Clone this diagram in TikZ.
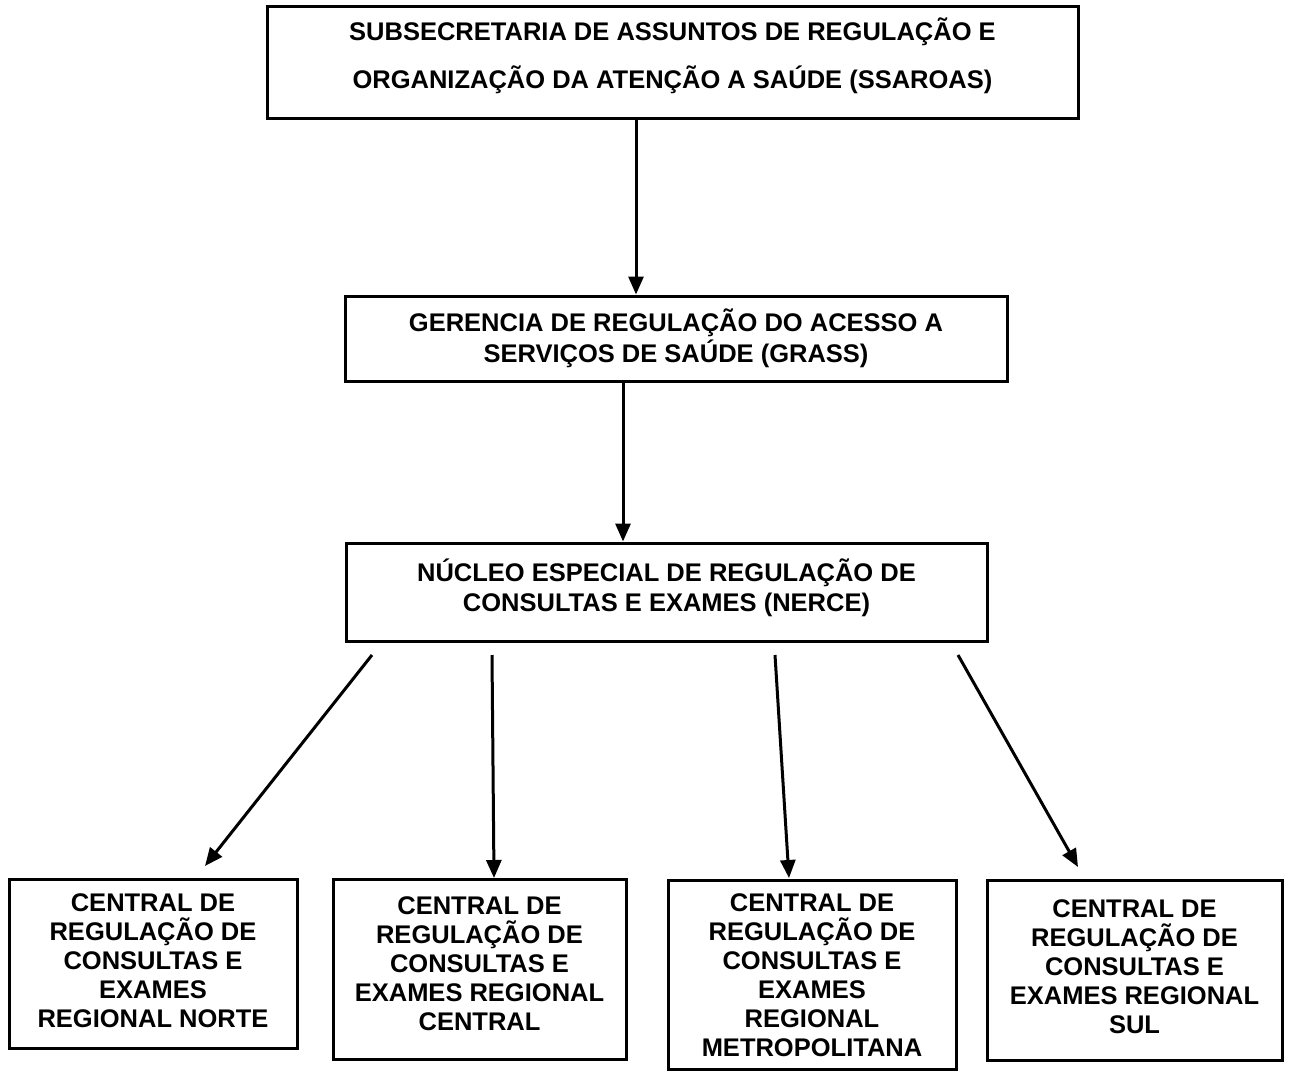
\documentclass[tikz,border=0pt]{standalone}
\usepackage{fontspec}
\setmainfont{Liberation Sans}
\usetikzlibrary{arrows.meta}
\begin{document}
\begin{tikzpicture}[x=1pt,y=-1pt,
  box/.style={draw,line width=3pt,rectangle,inner sep=0pt,align=center,
    font=\bfseries\fontsize{25.5}{29}\selectfont},
  arr/.style={line width=3pt,-{Triangle[length=18pt,width=15pt]}}]
\useasboundingbox (0,0) rectangle (1292,1070);
\node[box,minimum width=811pt,minimum height=112pt,text depth=19pt,
  font=\bfseries\fontsize{25.5}{48}\selectfont] (top) at (672.5,63)
  {SUBSECRETARIA DE ASSUNTOS DE REGULAÇÃO E\\ORGANIZAÇÃO DA ATENÇÃO A SAÚDE (SSAROAS)};
\node[box,minimum width=662pt,minimum height=85pt,
  font=\bfseries\fontsize{25.5}{31}\selectfont] (grass) at (676,338.5)
  {GERENCIA DE REGULAÇÃO DO ACESSO A\\SERVIÇOS DE SAÚDE (GRASS)};
\node[box,minimum width=641pt,minimum height=98pt,text depth=13pt,
  font=\bfseries\fontsize{25.5}{30}\selectfont] (nerce) at (666.5,592)
  {NÚCLEO ESPECIAL DE REGULAÇÃO DE\\CONSULTAS E EXAMES (NERCE)};
\node[box,minimum width=288pt,minimum height=169pt,text depth=6pt] (b1) at (153,963.5)
  {CENTRAL DE\\REGULAÇÃO DE\\CONSULTAS E\\EXAMES\\REGIONAL NORTE};
\node[box,minimum width=293pt,minimum height=180pt,text depth=10pt] (b2) at (479.5,969)
  {CENTRAL DE\\REGULAÇÃO DE\\CONSULTAS E\\EXAMES REGIONAL\\CENTRAL};
\node[box,minimum width=288pt,minimum height=189pt] (b3) at (812,975)
  {CENTRAL DE\\REGULAÇÃO DE\\CONSULTAS E\\EXAMES\\REGIONAL\\METROPOLITANA};
\node[box,minimum width=295pt,minimum height=180pt,text depth=6pt] (b4) at (1134.5,970)
  {CENTRAL DE\\REGULAÇÃO DE\\CONSULTAS E\\EXAMES REGIONAL\\SUL};
% vertical connectors
\coordinate (x1) at (636,0);
\coordinate (x2) at (623,0);
\draw[arr] (top.south -| x1) -- (grass.north -| x1);
\draw[arr] (grass.south -| x2) -- (nerce.north -| x2);
% connectors from NERCE to regional centrals
\coordinate (s1) at (372,655); \coordinate (e1) at (205,866);
\coordinate (s2) at (492,655); \coordinate (e2) at (494,878);
\coordinate (s3) at (775,655); \coordinate (e3) at (789,878);
\coordinate (s4) at (958,655); \coordinate (e4) at (1078,867);
\draw[arr] (s1) -- (e1);
\draw[arr] (s2) -- (e2);
\draw[arr] (s3) -- (e3);
\draw[arr] (s4) -- (e4);
\end{tikzpicture}
\end{document}
